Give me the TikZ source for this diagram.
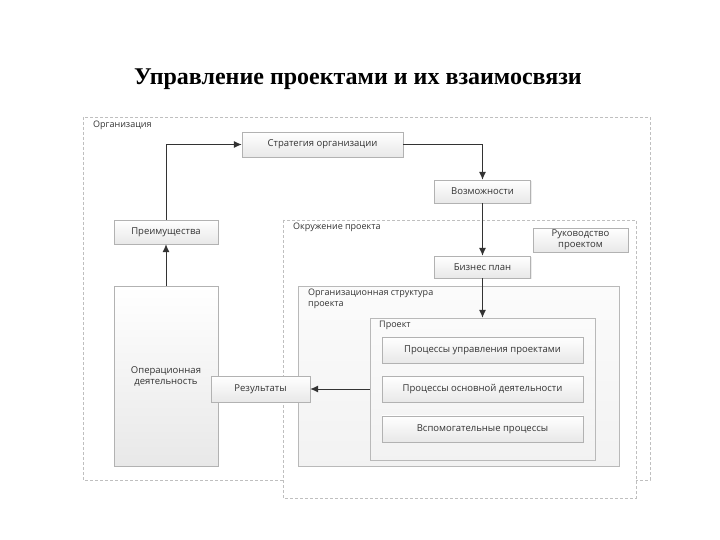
\documentclass[tikz,border=0pt]{standalone}
\usepackage{fontspec}
\setmainfont{Liberation Serif}
\setsansfont{Open Sans}
\usetikzlibrary{positioning,shadows,arrows.meta}

\tikzset{
	blok/.style={draw=gray!60, top color=white, bottom color=gray!18, text=black!80,
		font=\sffamily\fontsize{9.5}{11}\selectfont, align=center, inner sep=1pt,
		drop shadow={opacity=0.15, shadow xshift=1pt, shadow yshift=-1pt}},
	ramka/.style={draw=gray!50, fill=white, dash pattern=on 3pt off 2pt},
	pole/.style={draw=gray!55, top color=gray!3, bottom color=gray!10,
		drop shadow={opacity=0.12, shadow xshift=1pt, shadow yshift=-1pt}},
	metka/.style={font=\sffamily\fontsize{9}{11}\selectfont, anchor=north west,
		inner sep=0pt, align=left, text=black!80},
	strelka/.style={draw=gray!40!black, line width=1pt, -{Latex[length=8pt,width=7pt]}},
}

\begin{document}
\begin{tikzpicture}[x=1pt, y=-1pt]
	\useasboundingbox (0,0) rectangle (720,540);
	\node[font=\bfseries\fontsize{24}{28}\selectfont] (title) at (358,79) {Управление проектами и их взаимосвязи};

	% frames
	\draw[ramka] (83,117) rectangle (650,480);
	\node[metka] (org) at (93,121) {Организация};
	\draw[ramka] (283,220) rectangle (636,498);
	\node[metka] (okr) at (293,223) {Окружение проекта};
	\node[pole, minimum width=321, minimum height=180] (struct) at (458.5,376) {};
	\node[metka] (structl) at (308,289) {Организационная структура\\проекта};
	\node[pole, minimum width=225, minimum height=142] (proekt) at (482.5,389) {};
	\node[metka] (proektl) at (379,321) {Проект};

	% blocks
	\node[blok, minimum width=161, minimum height=25] (strat) at (322.5,144.5) {Стратегия организации};
	\node[blok, minimum width=96, minimum height=23] (vozm) at (482.5,191.5) {Возможности};
	\node[blok, minimum width=104, minimum height=24] (preim) at (166,232) {Преимущества};
	\node[blok, minimum width=95, minimum height=24] (ruk) at (580.5,240) {Руководство\\проектом};
	\node[blok, minimum width=96, minimum height=22] (biz) at (482.5,267) {Бизнес план};
	\node[blok, minimum width=104, minimum height=180] (oper) at (166,376) {Операционная\\деятельность};
	\node[blok, minimum width=201, minimum height=26] (p1) at (482.5,350) {Процессы управления проектами};
	\node[blok, minimum width=201, minimum height=26, below=13pt of p1] (p2) {Процессы основной деятельности};
	\node[blok, minimum width=201, minimum height=26, below=13pt of p2] (p3) {Вспомогательные процессы};
	\node[blok, minimum width=99, minimum height=26] (rez) at (260.5,389) {Результаты};

	% links
	\draw[strelka] (oper.north) -- (preim.south);
	\draw[strelka] (preim.north) |- (strat.west);
	\draw[strelka] (strat.east) -| (vozm.north);
	\draw[strelka] (vozm.south) -- (biz.north);
	\draw[strelka] (biz.south) -- (proekt.north);
	\draw[strelka] (proekt.west |- rez) -- (rez.east);
\end{tikzpicture}
\end{document}
